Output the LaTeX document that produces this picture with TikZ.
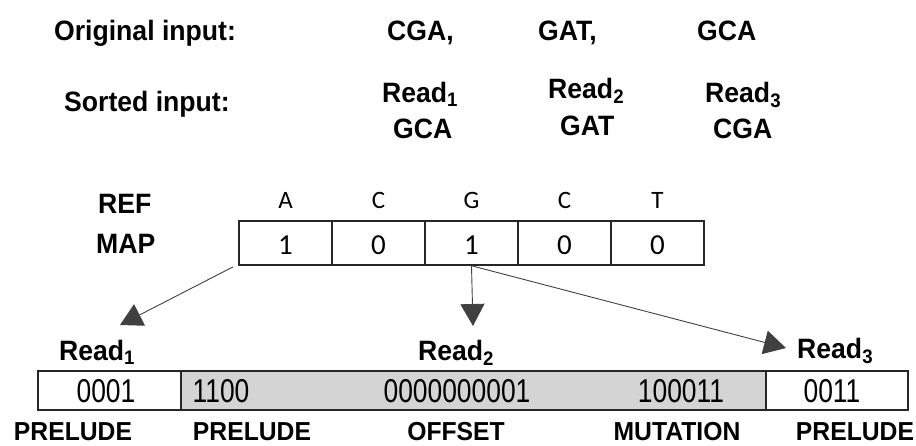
\documentclass[tikz,border=0pt]{standalone}
\usepackage{graphicx}
\usepackage{fontspec}
\setmainfont{Liberation Sans}
\newfontfamily\cellfont{Carlito}
\usetikzlibrary{arrows.meta}

% slightly condensed bold labels and narrow digit strings
\newcommand{\cond}[1]{\scalebox{0.95}[1]{#1}}
\newcommand{\narrowbits}[1]{\scalebox{0.8}[1]{#1}}

\tikzset{
  lbl/.style={font=\fontsize{28}{32}\selectfont\bfseries, inner sep=0pt},
  foot/.style={font=\fontsize{26}{30}\selectfont\bfseries, inner sep=0pt, anchor=base},
  base/.style={font=\fontsize{25}{28}\selectfont\cellfont, inner sep=0pt, anchor=base},
  mapcell/.style={draw=black!85, line width=1.5pt, minimum width=93pt, minimum height=44pt, inner sep=0pt},
  mapbit/.style={font=\fontsize{29}{32}\selectfont\cellfont, inner sep=0pt, anchor=base},
  barcell/.style={draw=black!85, line width=1.5pt, minimum height=39pt, inner sep=0pt},
  bits/.style={font=\fontsize{33}{36}\selectfont, inner sep=0pt, anchor=base},
  pointer/.style={draw=black!75, line width=0.9pt, -{Triangle[length=22pt,width=24pt]}}
}

\begin{document}
\begin{tikzpicture}[x=1pt, y=-1pt]
\useasboundingbox (0,0) rectangle (916,445);

% input lines
\node[lbl, anchor=base] (orig) at (145,40) {\cond{Original input:}};
\node[lbl, anchor=base west] (in1) at (387,40) {\cond{CGA,}};
\node[lbl, anchor=base west] (in2) at (538,40) {\cond{GAT,}};
\node[lbl, anchor=base west] (in3) at (697,40) {\cond{GCA}};

\node[lbl, anchor=base west] (sorted) at (64,111) {\cond{Sorted input:}};
\node[lbl, anchor=base west] (s1) at (382,102) {\cond{Read\textsubscript{1}}};
\node[lbl, anchor=base west] (s1seq) at (393,138) {\cond{GCA}};
\node[lbl, anchor=base west] (s2) at (548,98) {\cond{Read\textsubscript{2}}};
\node[lbl, anchor=base west] (s2seq) at (560,135) {\cond{GAT}};
\node[lbl, anchor=base west] (s3) at (705,102) {\cond{Read\textsubscript{3}}};
\node[lbl, anchor=base west] (s3seq) at (713,138) {\cond{CGA}};

% reference and bit map
\node[lbl, anchor=base west] (ref) at (98,213) {\cond{REF}};
\node[lbl, anchor=base west] (map) at (96,253) {\cond{MAP}};

\foreach \b/\l [count=\i] in {1/A,0/C,1/G,0/C,0/T} {
  \node[mapcell] (c\i) at ({239+93*(\i-0.5)},243) {};
  \node[base] (r\i) at ({239+93*(\i-0.5)},208) {\l};
  \node[mapbit] (m\i) at ({239+93*(\i-0.5)},254) {\b};
}

% encoded output bar
\node[barcell, minimum width=143pt] (b1) at (109.5,390.5) {};
\node[barcell, minimum width=585pt, fill=black!17] (b2) at (473.5,390.5) {};
\node[barcell, minimum width=142pt] (b3) at (837,390.5) {};

\node[bits] (v1) at (106,402) {\narrowbits{0001}};
\node[bits] (v2) at (221,402) {\narrowbits{1100}};
\node[bits] (v3) at (457,402) {\narrowbits{0000000001}};
\node[bits] (v4) at (681,402) {\narrowbits{100011}};
\node[bits] (v5) at (832,402) {\narrowbits{0011}};

\node[foot] (f1) at (73,440) {\cond{PRELUDE}};
\node[foot] (f2) at (252,440) {\cond{PRELUDE}};
\node[foot] (f3) at (456,440) {\cond{OFFSET}};
\node[foot] (f4) at (677,440) {\cond{MUTATION}};
\node[foot] (f5) at (855,440) {\cond{PRELUDE}};

\node[lbl, anchor=base west] (o1) at (59,360) {\cond{Read\textsubscript{1}}};
\node[lbl, anchor=base west] (o2) at (418,360) {\cond{Read\textsubscript{2}}};
\node[lbl, anchor=base west] (o3) at (797,358) {\cond{Read\textsubscript{3}}};

% pointers from the map into the output
\coordinate (t1) at (120,325);
\coordinate (t2) at (473,326);
\coordinate (t3) at (786,348);
\draw[pointer] ([xshift=-5pt,yshift=-1pt]c1.south west) -- (t1);
\draw[pointer] (c3.south) -- (t2);
\draw[pointer] (c3.south) -- (t3);
\end{tikzpicture}
\end{document}
